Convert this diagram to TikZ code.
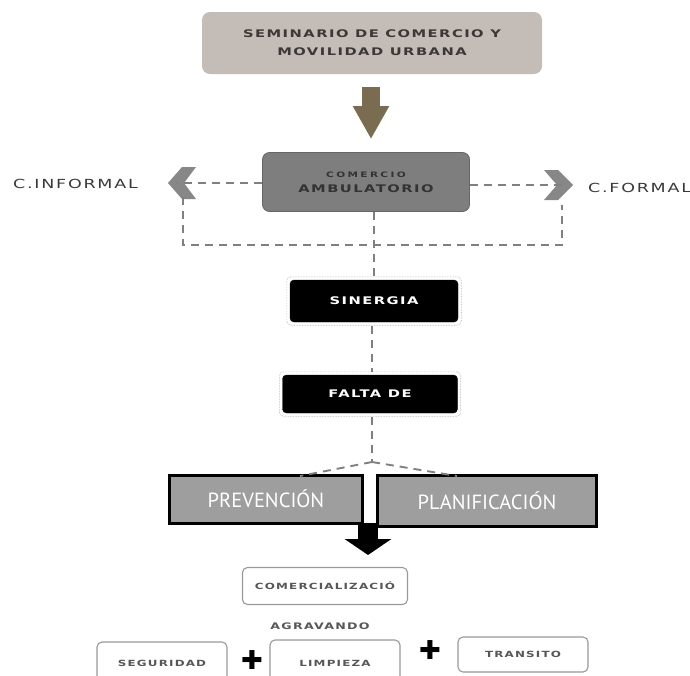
\documentclass[tikz,border=0pt]{standalone}
\usepackage{fontspec}
\setmainfont{DejaVu Sans}
\newfontfamily\tech[FakeStretch=1.4, LetterSpace=14]{DejaVu Sans}
\newfontfamily\techw[FakeStretch=1.4, LetterSpace=32]{DejaVu Sans}
\newfontfamily\ptfont{PT Sans}
\usetikzlibrary{arrows.meta,fit,calc}
\definecolor{taupe}{RGB}{196,188,182}
\definecolor{brownarrow}{RGB}{122,108,80}
\definecolor{midgray}{RGB}{126,126,126}
\definecolor{dashgray}{RGB}{128,128,128}
\definecolor{txtdark}{RGB}{60,56,56}
\definecolor{boxgray}{RGB}{158,158,158}
\definecolor{chevgray}{RGB}{135,135,135}
\tikzset{
  techtext/.style={font=\tech\bfseries, text=txtdark, align=center},
  blackbox/.style={fill=black, rounded corners=4pt, draw=black, text=white, font=\tech\bfseries\fontsize{10.5}{12}\selectfont, inner sep=0pt},
  graybox/.style={fill=boxgray, draw=black, line width=3pt, text=white, font=\ptfont\fontsize{20.5}{22}\selectfont, inner sep=0pt},
  whitebox/.style={fill=white, draw=gray!80, line width=1.1pt, rounded corners=5pt, text=txtdark!85, font=\tech\bfseries\fontsize{8.5}{10}\selectfont, inner sep=0pt},
  smalltech/.style={font=\tech\bfseries\fontsize{8.5}{10}\selectfont, text=txtdark!85, inner sep=0pt},
  sidelabel/.style={font=\tech\fontsize{12.5}{14}\selectfont, text=txtdark, anchor=west, inner sep=0pt},
  dline/.style={draw=dashgray, line width=1.6pt, dash pattern=on 8pt off 6pt},
  outline/.style={draw=gray!70, line width=0.6pt, densely dotted, rounded corners=4pt, inner sep=3pt},
  plus/.style={font=\fontsize{26}{26}\selectfont, inner sep=0pt, text=black}
}
\begin{document}
\begin{tikzpicture}[x=1pt,y=-1pt]
\useasboundingbox (0,0) rectangle (690,675);

% top box
\node[fill=taupe, rounded corners=8pt, minimum width=340pt, minimum height=62pt, inner sep=0pt,
      techtext, font=\tech\bfseries\fontsize{10.5}{18}\selectfont] (top) at (372,43)
  {SEMINARIO DE COMERCIO Y\\MOVILIDAD URBANA};

% comercio ambulatorio
\node[fill=midgray, draw=black!60, line width=0.8pt, rounded corners=7pt, minimum width=207pt, minimum height=59pt, inner sep=0pt,
      techtext, text=black!80] (cab) at (366,182)
  {{\techw\bfseries\fontsize{7.5}{9}\selectfont COMERCIO}\\[3pt]{\fontsize{10.5}{12}\selectfont AMBULATORIO}};

% brown arrow
\draw[brownarrow, line width=18pt, -{Triangle[width=34pt,length=33pt]}, shorten <=13pt, shorten >=13pt]
  ($(top.south)+(-1,0)$) -- ($(top.south |- cab.north)+(-1,0)$);

% side labels
\node[sidelabel] (cinf) at (13,184) {C.INFORMAL};
\node[sidelabel] (cfor) at (588,188) {C.FORMAL};

% chevrons
\coordinate (lchev) at (168,183);
\coordinate (rchev) at (573,185);
\fill[chevgray] (lchev) -- ++(14,-16) -- ++(14,0) -- ++(-12,16) -- ++(12,16) -- ++(-14,0) -- cycle;
\fill[chevgray] (rchev) -- ++(-15,-15) -- ++(-14,0) -- ++(13,15) -- ++(-13,15) -- ++(14,0) -- cycle;

% dashed connectors from box to chevrons
\draw[dline] (cab.west |- lchev) -- ($(lchev)+(8,0)$);
\draw[dline] (cab.east |- rchev) -- ($(rchev)+(-6,0)$);

% loop
\coordinate (lbot) at (183,245);
\coordinate (rbot) at (562,245);
\draw[dline] (183,197) -- (lbot) -- (rbot) -- (562,205);

% sinergia & falta de
\node[blackbox, minimum width=168pt, minimum height=42pt] (sin) at (374,301) {SINERGIA};
\node[outline, fit=(sin)] (sinout) {};
\node[blackbox, minimum width=175pt, minimum height=38pt] (fal) at (370,394) {FALTA DE};
\node[outline, fit=(fal)] (falout) {};

\draw[dline] (cab.south -| sin.north) -- (sinout.north);
\draw[dline] (sinout.south -| 372,0) -- (falout.north -| 372,0);
\coordinate (jn) at (372,462);
\draw[dline] (falout.south -| jn) -- (jn);

% prevencion / planificacion
\node[graybox, minimum width=193pt, minimum height=48pt] (prev) at (266,499) {PREVENCIÓN};
\node[graybox, minimum width=219pt, minimum height=51pt] (plan) at (487,501) {PLANIFICACIÓN};

\draw[dline, line width=1.9pt] (jn) -- (300,476);
\draw[dline, line width=1.9pt] (jn) -- (457,476);

% black arrow
\coordinate (ba) at (368,523);
\node[whitebox, minimum width=165pt, minimum height=37pt] (com) at (325,586) {COMERCIALIZACIÓ};
\draw[black, line width=20pt, -{Triangle[width=46pt,length=16pt]}] (ba) -- (ba |- 0,555);

\node[smalltech, font=\tech\bfseries\fontsize{9}{10}\selectfont] (agr) at (320,626) {AGRAVANDO};

% bottom boxes
\node[whitebox, minimum width=130pt, minimum height=50pt] (seg) at (162,667) {};
\node[smalltech] (segt) at (162,663) {SEGURIDAD};
\node[whitebox, minimum width=130pt, minimum height=50pt] (lim) at (335,665) {};
\node[smalltech] (limt) at (335,663) {LIMPIEZA};
\node[whitebox, minimum width=130pt, minimum height=35pt] (tra) at (523,654.5) {TRANSITO};

\node[plus] (p1) at (252,660) {✚};
\node[plus] (p2) at (430,650) {✚};
\end{tikzpicture}
\end{document}
